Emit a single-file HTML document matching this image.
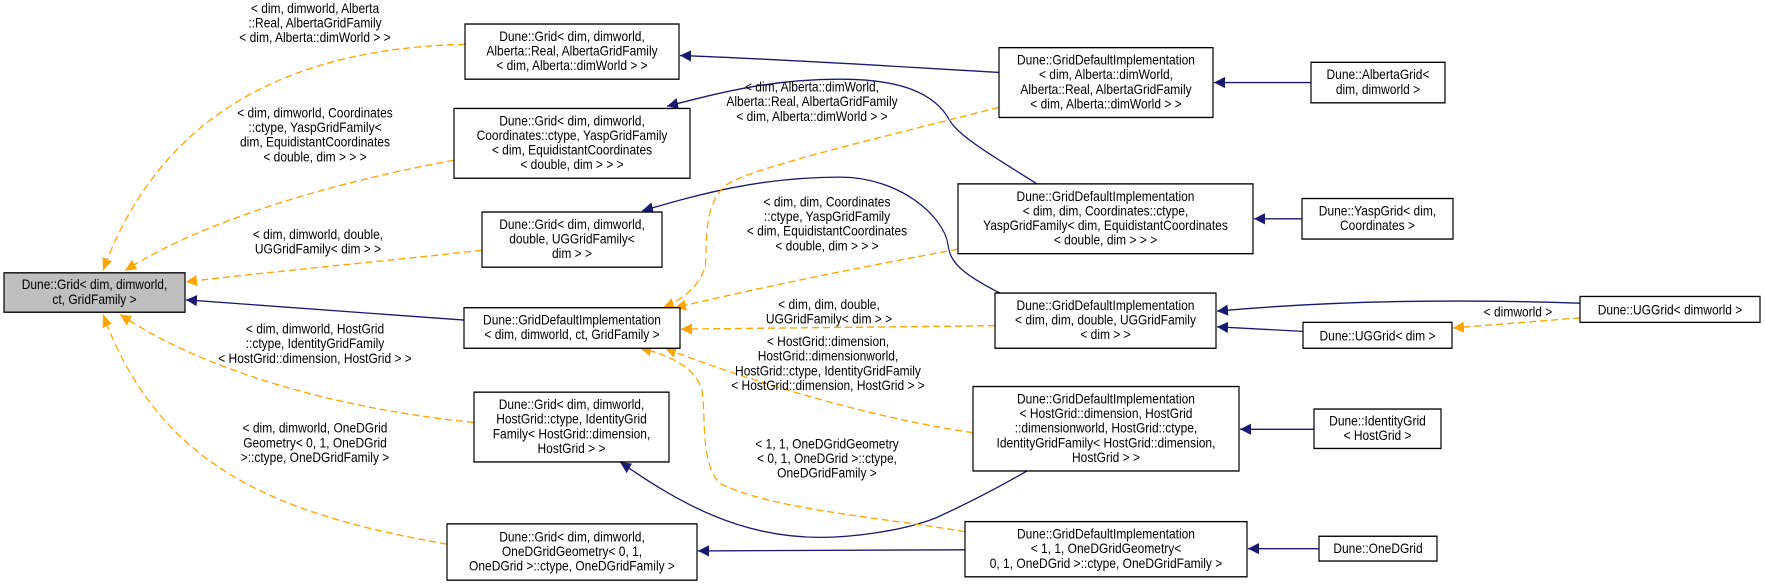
<!DOCTYPE html>
<html><head><meta charset="utf-8"><style>
html,body{margin:0;padding:0;background:#fff;}
svg{display:block;}
text{font-family:"Liberation Sans",Arial,sans-serif;font-size:12px;fill:#000;}
.b{fill:#fff;stroke:#000;stroke-width:1.2;}
.bl{fill:none;stroke:#191970;stroke-width:1.2;}
.or{fill:none;stroke:#ffa500;stroke-width:1.2;stroke-dasharray:7,4;}
</style></head><body>
<svg width="1765" height="587" viewBox="0 0 1765 587" xmlns="http://www.w3.org/2000/svg">
<defs>
<marker id="mb" markerUnits="userSpaceOnUse" markerWidth="12" markerHeight="10" refX="11" refY="5" orient="auto"><path d="M0,0 L11,5 L0,10 z" fill="#191970"/></marker>
<marker id="mo" markerUnits="userSpaceOnUse" markerWidth="12" markerHeight="10" refX="11" refY="5" orient="auto"><path d="M0,0 L11,5 L0,10 z" fill="#ffa500"/></marker>
</defs>
<g transform="translate(0,-3) scale(1,1.1258)">
<!-- edges to root -->
<path class="or" marker-end="url(#mo)" d="M465,42 C330,45 170,80 103,243"/>
<path class="or" marker-end="url(#mo)" d="M454,145 C330,165 200,200 125,243"/>
<path class="or" marker-end="url(#mo)" d="M482,225 C380,235 260,245 186,253"/>
<path class="bl" marker-end="url(#mb)" d="M464,287 L186,269"/>
<path class="or" marker-end="url(#mo)" d="M474,378 C330,365 200,330 120,282"/>
<path class="or" marker-end="url(#mo)" d="M447,486 C280,460 160,420 103,282"/>

<path class="bl" marker-end="url(#mb)" d="M999,67 C900,62 780,55 680,52"/>
<path class="bl" marker-end="url(#mb)" d="M1037,166 C1000,145 960,125 950,110 C935,85 900,73 840,73 C770,73 720,85 667,97"/>
<path class="bl" marker-end="url(#mb)" d="M1000,263 C960,245 950,235 948,220 C944,195 900,160 840,160 C760,160 700,175 642,190"/>
<path class="bl" marker-end="url(#mb)" d="M1027,421 C990,440 955,455 935,463 C900,475 850,480 820,480 C740,480 680,450 620,413"/>
<path class="bl" marker-end="url(#mb)" d="M965,491 L698,492"/>

<path class="or" marker-end="url(#mo)" d="M999,98 C880,125 760,150 730,165 C700,180 708,230 705,240 C700,255 685,268 663,276"/>
<path class="or" marker-end="url(#mo)" d="M958,224 C860,240 760,258 675,276"/>
<path class="or" marker-end="url(#mo)" d="M995,292 L681,295"/>
<path class="or" marker-end="url(#mo)" d="M973,387 C880,375 760,345 665,312"/>
<path class="or" marker-end="url(#mo)" d="M965,475 C880,462 770,455 720,432 C700,415 706,370 702,350 C697,330 670,318 640,312"/>

<path class="bl" marker-end="url(#mb)" d="M1311,76 L1214,76"/>
<path class="bl" marker-end="url(#mb)" d="M1302,197 L1254,197"/>
<path class="bl" marker-end="url(#mb)" d="M1580,272 C1450,268 1330,270 1217,279"/>
<path class="bl" marker-end="url(#mb)" d="M1303,297 L1217,293"/>
<path class="or" marker-end="url(#mo)" d="M1580,285 L1453,294"/>
<path class="bl" marker-end="url(#mb)" d="M1314,384 L1240,384"/>
<path class="bl" marker-end="url(#mb)" d="M1319,490 L1248,490"/>

<rect x="4" y="245" width="181" height="35" fill="#bfbfbf" stroke="#000" stroke-width="1.2"/>
<text text-anchor="middle"><tspan x="94.5" y="259.5">Dune::Grid&lt; dim, dimworld,</tspan><tspan x="94.5" y="272.5">ct, GridFamily &gt;</tspan></text>

<rect class="b" x="465" y="24" width="214" height="49"/>
<text text-anchor="middle"><tspan x="572" y="39">Dune::Grid&lt; dim, dimworld,</tspan><tspan x="572" y="52">Alberta::Real, AlbertaGridFamily</tspan><tspan x="572" y="65">&lt; dim, Alberta::dimWorld &gt; &gt;</tspan></text>

<rect class="b" x="454" y="99" width="236" height="62"/>
<text text-anchor="middle"><tspan x="572" y="114">Dune::Grid&lt; dim, dimworld,</tspan><tspan x="572" y="127">Coordinates::ctype, YaspGridFamily</tspan><tspan x="572" y="140">&lt; dim, EquidistantCoordinates</tspan><tspan x="572" y="153">&lt; double, dim &gt; &gt; &gt;</tspan></text>

<rect class="b" x="482" y="191" width="180" height="49"/>
<text text-anchor="middle"><tspan x="572" y="206">Dune::Grid&lt; dim, dimworld,</tspan><tspan x="572" y="219">double, UGGridFamily&lt;</tspan><tspan x="572" y="232">dim &gt; &gt;</tspan></text>

<rect class="b" x="464" y="276" width="216" height="36"/>
<text text-anchor="middle"><tspan x="572" y="291">Dune::GridDefaultImplementation</tspan><tspan x="572" y="304">&lt; dim, dimworld, ct, GridFamily &gt;</tspan></text>

<rect class="b" x="474" y="351" width="195" height="62"/>
<text text-anchor="middle"><tspan x="571.5" y="366">Dune::Grid&lt; dim, dimworld,</tspan><tspan x="571.5" y="379">HostGrid::ctype, IdentityGrid</tspan><tspan x="571.5" y="392">Family&lt; HostGrid::dimension,</tspan><tspan x="571.5" y="405">HostGrid &gt; &gt;</tspan></text>

<rect class="b" x="447" y="468" width="250" height="50"/>
<text text-anchor="middle"><tspan x="572" y="483.5">Dune::Grid&lt; dim, dimworld,</tspan><tspan x="572" y="496.5">OneDGridGeometry&lt; 0, 1,</tspan><tspan x="572" y="509.5">OneDGrid &gt;::ctype, OneDGridFamily &gt;</tspan></text>

<rect class="b" x="999" y="45" width="214" height="62"/>
<text text-anchor="middle"><tspan x="1106" y="60">Dune::GridDefaultImplementation</tspan><tspan x="1106" y="73">&lt; dim, Alberta::dimWorld,</tspan><tspan x="1106" y="86">Alberta::Real, AlbertaGridFamily</tspan><tspan x="1106" y="99">&lt; dim, Alberta::dimWorld &gt; &gt;</tspan></text>

<rect class="b" x="958" y="166" width="295" height="62"/>
<text text-anchor="middle"><tspan x="1105.5" y="181">Dune::GridDefaultImplementation</tspan><tspan x="1105.5" y="194">&lt; dim, dim, Coordinates::ctype,</tspan><tspan x="1105.5" y="207">YaspGridFamily&lt; dim, EquidistantCoordinates</tspan><tspan x="1105.5" y="220">&lt; double, dim &gt; &gt; &gt;</tspan></text>

<rect class="b" x="995" y="263" width="221" height="49"/>
<text text-anchor="middle"><tspan x="1105.5" y="278">Dune::GridDefaultImplementation</tspan><tspan x="1105.5" y="291">&lt; dim, dim, double, UGGridFamily</tspan><tspan x="1105.5" y="304">&lt; dim &gt; &gt;</tspan></text>

<rect class="b" x="973" y="346" width="266" height="75"/>
<text text-anchor="middle"><tspan x="1106" y="361">Dune::GridDefaultImplementation</tspan><tspan x="1106" y="374">&lt; HostGrid::dimension, HostGrid</tspan><tspan x="1106" y="387">::dimensionworld, HostGrid::ctype,</tspan><tspan x="1106" y="400">IdentityGridFamily&lt; HostGrid::dimension,</tspan><tspan x="1106" y="413">HostGrid &gt; &gt;</tspan></text>

<rect class="b" x="965" y="466" width="282" height="49"/>
<text text-anchor="middle"><tspan x="1106" y="481">Dune::GridDefaultImplementation</tspan><tspan x="1106" y="494">&lt; 1, 1, OneDGridGeometry&lt;</tspan><tspan x="1106" y="507">0, 1, OneDGrid &gt;::ctype, OneDGridFamily &gt;</tspan></text>

<rect class="b" x="1311" y="58" width="134" height="36"/>
<text text-anchor="middle"><tspan x="1378" y="73">Dune::AlbertaGrid&lt;</tspan><tspan x="1378" y="86">dim, dimworld &gt;</tspan></text>

<rect class="b" x="1302" y="179" width="151" height="36"/>
<text text-anchor="middle"><tspan x="1377.5" y="194">Dune::YaspGrid&lt; dim,</tspan><tspan x="1377.5" y="207">Coordinates &gt;</tspan></text>

<rect class="b" x="1580" y="266" width="180" height="23"/>
<text text-anchor="middle" x="1670" y="282">Dune::UGGrid&lt; dimworld &gt;</text>

<rect class="b" x="1303" y="289" width="149" height="23"/>
<text text-anchor="middle" x="1377.5" y="305">Dune::UGGrid&lt; dim &gt;</text>

<rect class="b" x="1314" y="366" width="127" height="35"/>
<text text-anchor="middle"><tspan x="1377.5" y="380.5">Dune::IdentityGrid</tspan><tspan x="1377.5" y="393.5">&lt; HostGrid &gt;</tspan></text>

<rect class="b" x="1319" y="479" width="118" height="22"/>
<text text-anchor="middle" x="1378" y="494">Dune::OneDGrid</text>

<text text-anchor="middle"><tspan x="315" y="14">&lt; dim, dimworld, Alberta</tspan><tspan x="315" y="27">::Real, AlbertaGridFamily</tspan><tspan x="315" y="40">&lt; dim, Alberta::dimWorld &gt; &gt;</tspan></text>
<text text-anchor="middle"><tspan x="315" y="107">&lt; dim, dimworld, Coordinates</tspan><tspan x="315" y="120">::ctype, YaspGridFamily&lt;</tspan><tspan x="315" y="133">dim, EquidistantCoordinates</tspan><tspan x="315" y="146">&lt; double, dim &gt; &gt; &gt;</tspan></text>
<text text-anchor="middle"><tspan x="318" y="215">&lt; dim, dimworld, double,</tspan><tspan x="318" y="228">UGGridFamily&lt; dim &gt; &gt;</tspan></text>
<text text-anchor="middle"><tspan x="315" y="299">&lt; dim, dimworld, HostGrid</tspan><tspan x="315" y="312">::ctype, IdentityGridFamily</tspan><tspan x="315" y="325">&lt; HostGrid::dimension, HostGrid &gt; &gt;</tspan></text>
<text text-anchor="middle"><tspan x="315" y="387">&lt; dim, dimworld, OneDGrid</tspan><tspan x="315" y="400">Geometry&lt; 0, 1, OneDGrid</tspan><tspan x="315" y="413">&gt;::ctype, OneDGridFamily &gt;</tspan></text>
<text text-anchor="middle"><tspan x="812" y="84">&lt; dim, Alberta::dimWorld,</tspan><tspan x="812" y="97">Alberta::Real, AlbertaGridFamily</tspan><tspan x="812" y="110">&lt; dim, Alberta::dimWorld &gt; &gt;</tspan></text>
<text text-anchor="middle"><tspan x="827" y="186">&lt; dim, dim, Coordinates</tspan><tspan x="827" y="199">::ctype, YaspGridFamily</tspan><tspan x="827" y="212">&lt; dim, EquidistantCoordinates</tspan><tspan x="827" y="225">&lt; double, dim &gt; &gt; &gt;</tspan></text>
<text text-anchor="middle"><tspan x="829" y="277">&lt; dim, dim, double,</tspan><tspan x="829" y="290">UGGridFamily&lt; dim &gt; &gt;</tspan></text>
<text text-anchor="middle"><tspan x="828" y="310">&lt; HostGrid::dimension,</tspan><tspan x="828" y="323">HostGrid::dimensionworld,</tspan><tspan x="828" y="336">HostGrid::ctype, IdentityGridFamily</tspan><tspan x="828" y="349">&lt; HostGrid::dimension, HostGrid &gt; &gt;</tspan></text>
<text text-anchor="middle"><tspan x="827" y="401">&lt; 1, 1, OneDGridGeometry</tspan><tspan x="827" y="414">&lt; 0, 1, OneDGrid &gt;::ctype,</tspan><tspan x="827" y="427">OneDGridFamily &gt;</tspan></text>
<text text-anchor="middle" x="1518" y="284">&lt; dimworld &gt;</text>
</g>
</svg>
</body></html>
